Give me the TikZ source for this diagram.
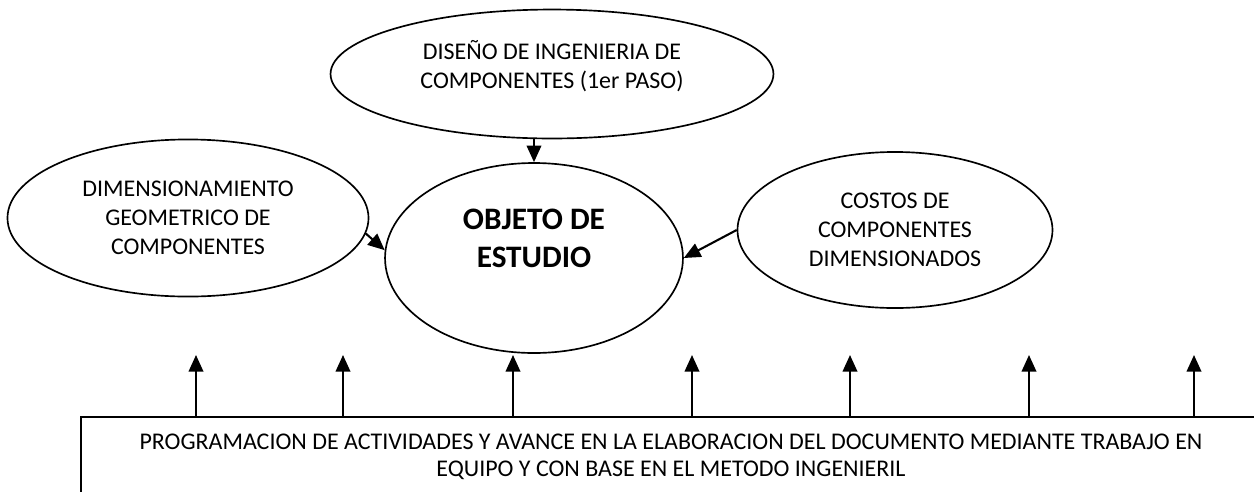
\documentclass[tikz,border=0pt]{standalone}
\usepackage{fontspec}
\setmainfont{Carlito}
\usetikzlibrary{arrows.meta,shapes.geometric}
\begin{document}
\begin{tikzpicture}[x=0.48pt, y=-0.48pt,
        main/.style={ellipse, draw, line width=0.8pt, inner sep=0pt, align=center, font=\fontsize{11.5}{13.8}\selectfont},
        arr/.style={-{Triangle[length=8pt,width=7pt]}, line width=1pt}]
        \useasboundingbox (0,0) rectangle (1254,491);
        \clip (0,0) rectangle (1254,491);
        \node[main, minimum width=212.6pt, minimum height=61.9pt, text depth=9pt] (1) at (552,74) {DISEÑO DE INGENIERIA DE\\COMPONENTES (1er PASO)};
        \node[main, minimum width=173.3pt, minimum height=75.4pt] (2) at (188,218) {DIMENSIONAMIENTO\\GEOMETRICO DE\\COMPONENTES};
        \node[main, minimum width=143pt, minimum height=91.2pt, text depth=19pt, font=\fontsize{15}{17.8}\selectfont\bfseries] (3) at (534,258) {OBJETO DE\\ESTUDIO};
        \node[main, minimum width=151.2pt, minimum height=74.9pt] (4) at (895,230) {COSTOS DE\\COMPONENTES\\DIMENSIONADOS};
        \node[draw, line width=0.8pt, anchor=north, minimum width=566.4pt, inner ysep=8pt, text depth=40pt, align=center, font=\fontsize{11.5}{13}\selectfont] (5) at (671,416) {PROGRAMACION DE ACTIVIDADES Y AVANCE EN LA ELABORACION DEL DOCUMENTO MEDIANTE TRABAJO EN\\EQUIPO Y CON BASE EN EL METODO INGENIERIL};
        \draw[arr] (3.north |- 1.south) -- (3.north);
        \draw[arr] (2.-5) -- (3.177);
        \draw[arr] (4.west) -- (3.east);
        \foreach \xx [count=\i] in {196,343,513,692,850,1029,1194} {
            \coordinate (t\i) at (\xx,355);
            \draw[arr] (5.north -| t\i) -- (t\i);
        }
    \end{tikzpicture}
\end{document}
